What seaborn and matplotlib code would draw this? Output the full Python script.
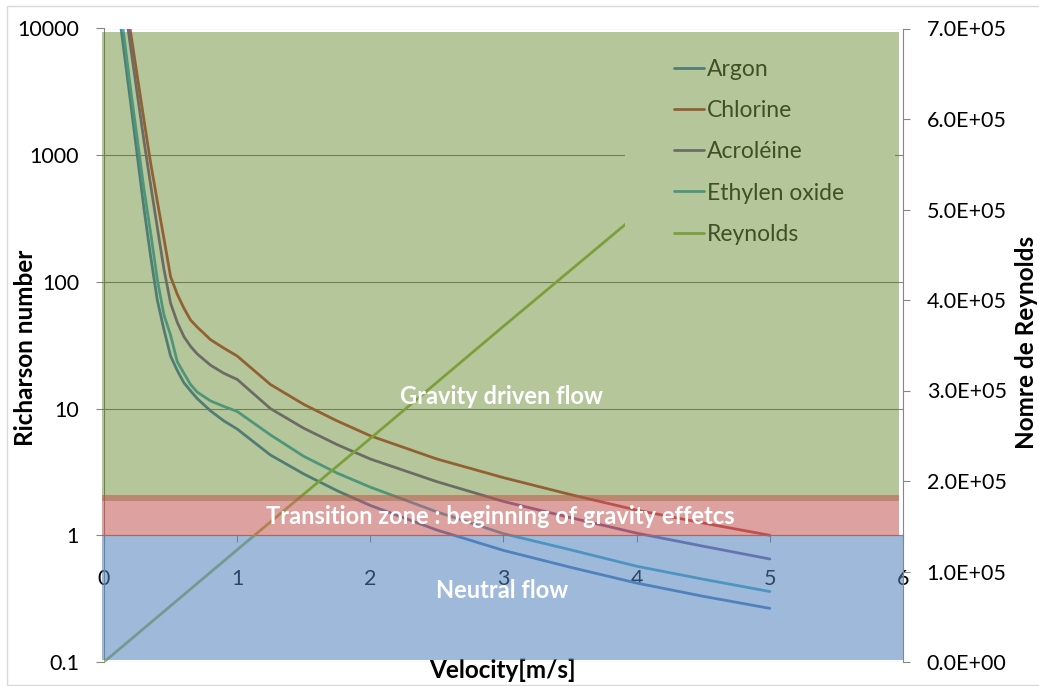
import matplotlib
matplotlib.use("Agg")
import pandas as pd
import matplotlib.pyplot as plt
import seaborn as sns
from matplotlib.patches import Rectangle
from matplotlib.ticker import FuncFormatter, NullLocator

# velocity [m/s] and Richardson numbers
velocity = [0.1, 0.2, 0.3, 0.35, 0.4, 0.45, 0.5, 0.55, 0.6, 0.65, 0.7, 0.8, 0.9, 1.0,
            1.25, 1.5, 1.75, 2.0, 2.5, 3.0, 3.5, 4.0, 4.5, 5.0]
argon = [17000, 2600, 380, 160, 72, 42, 26, 20, 16, 13.8, 12, 9.6, 8.0, 6.9,
         4.3, 3.05, 2.25, 1.72, 1.1, 0.76, 0.56, 0.42, 0.33, 0.265]
chlorine = [45000, 9300, 1900, 870, 435, 220, 110, 80, 62, 50, 44, 35, 30, 26,
            15.5, 10.8, 8.0, 6.1, 4.0, 2.85, 2.1, 1.58, 1.25, 1.0]
acroleine = [40000, 7100, 1300, 585, 270, 126, 68, 48, 37, 31, 27, 22, 19, 17,
             10.0, 7.0, 5.2, 4.0, 2.65, 1.85, 1.38, 1.04, 0.82, 0.65]
ethylene = [23000, 3300, 540, 245, 105, 55, 38, 23.5, 19, 15.5, 13.5, 11.5, 10.4, 9.5,
            6.2, 4.2, 3.1, 2.4, 1.53, 1.03, 0.77, 0.57, 0.45, 0.36]
gases = ["Argon", "Chlorine", "Acroléine", "Ethylen oxide"]
gas_colors = ["#4F81BD", "#C0504D", "#8064A2", "#4BACC6"]

reynolds_v = [0, 1, 2, 3, 4, 5]
reynolds = [0, 1.24e5, 2.47e5, 3.71e5, 4.94e5, 6.18e5]

left_ticks = [0.1, 1, 10, 100, 1000, 10000]
right_ticks = [0, 1e5, 2e5, 3e5, 4e5, 5e5, 6e5, 7e5]

df = pd.DataFrame({
    "Velocity": velocity * 4,
    "Ri": argon + chlorine + acroleine + ethylene,
    "Gas": sum([[g] * len(velocity) for g in gases], []),
})
df_re = pd.DataFrame({"Velocity": reynolds_v, "Re": reynolds})

sns.set_style("white")
plt.rcParams["font.family"] = ["Lato", "DejaVu Sans"]

W, H = 1039, 686
grey = "#868686"
tick_fs = 15.5
leg_fs = 16.5
zone_fs = 17
title_fs = 17.5

fig = plt.figure(figsize=(W / 100, H / 100), dpi=100)
ax = fig.add_axes([104 / W, 1 - 662 / H, (903 - 104) / W, (662 - 28.5) / H])
ax2 = ax.twinx()

ax.set_yscale("log")
sns.lineplot(data=df, x="Velocity", y="Ri", hue="Gas", hue_order=gases,
             palette=gas_colors, ax=ax, legend=False, errorbar=None,
             linewidth=2.0)
sns.lineplot(data=df_re, x="Velocity", y="Re", color="#9BBB59", ax=ax2,
             errorbar=None, linewidth=2.0)

ax.set_xlim(0, 6)
ax.set_ylim(0.1, 10000)
ax2.set_ylim(0, 7e5)
ax.set_xlabel("")
ax.set_ylabel("")
ax2.set_ylabel("")

# left axis
ax.yaxis.set_minor_locator(NullLocator())
ax.set_yticks(left_ticks)
ax.yaxis.set_major_formatter(FuncFormatter(lambda v, _: f"{v:g}"))
ax.yaxis.grid(True, color=grey, linewidth=0.8)
ax.tick_params(axis="y", which="major", left=True, length=6, width=0.8,
               color=grey, labelsize=tick_fs, pad=12, labelcolor="black")

# x axis crossing at Ri = 1
ax.spines["bottom"].set_position(("data", 1))
ax.set_xticks(range(7))
ax.tick_params(axis="x", bottom=True, length=5, width=0.8, color=grey,
               labelsize=tick_fs, pad=19, labelcolor="black")
for s in ["top", "right"]:
    ax.spines[s].set_visible(False)
for s in ["left", "bottom"]:
    ax.spines[s].set_color(grey)
    ax.spines[s].set_linewidth(0.8)

# right axis
ax2.set_yticks(right_ticks)
ax2.yaxis.set_major_formatter(FuncFormatter(lambda v, _: f"{v:.1E}"))
ax2.tick_params(axis="y", right=True, length=5, width=0.8, color=grey,
                labelsize=tick_fs, pad=12, labelcolor="black")
for s in ["top", "left", "bottom"]:
    ax2.spines[s].set_visible(False)
ax2.spines["right"].set_color(grey)
ax2.spines["right"].set_linewidth(0.8)

# legend box (white) and legend
ax2.add_patch(Rectangle((625 / W, 1 - 262 / H), (895 - 625) / W, (262 - 40) / H,
                        transform=fig.transFigure, facecolor="white",
                        edgecolor="none", zorder=3))
handles = list(ax.get_lines()[:4]) + [ax2.get_lines()[0]]
ax2.legend(handles, gases + ["Reynolds"], loc="upper left",
           bbox_to_anchor=(674 / W, 1 - 59 / H), bbox_transform=fig.transFigure,
           frameon=False, borderpad=0, borderaxespad=0, handlelength=1.3,
           handletextpad=0.15, labelspacing=0.88, fontsize=leg_fs,
           labelcolor="#333333")

# translucent zone overlays drawn on top of everything
fig.add_artist(Rectangle((-0.017, 1.875), 5.985, 9450 - 1.875,
                         transform=ax.transData, facecolor=(81 / 255, 121 / 255, 17 / 255),
                         alpha=0.42, edgecolor="none", zorder=10))
fig.add_artist(Rectangle((-0.017, 0.987), 5.985, 2.08 - 0.987,
                         transform=ax.transData, facecolor="#C0504D",
                         alpha=0.53, edgecolor="none", zorder=11))
fig.add_artist(Rectangle((-0.017, 0.1037), 6.015, 0.987 - 0.1037,
                         transform=ax.transData, facecolor="#4F81BD",
                         alpha=0.55, edgecolor="none", zorder=12))

txt = dict(color="white", fontweight="bold", fontsize=zone_fs, ha="center",
           va="center", zorder=13)
fig.text(502 / W, 1 - 397 / H, "Gravity driven flow", **txt)
fig.text(500 / W, 1 - 517 / H, "Transition zone : beginning of gravity effetcs", **txt)
fig.text(502 / W, 1 - 590 / H, "Neutral flow", **txt)

# axis titles
lab = dict(color="black", fontweight="bold", fontsize=title_fs, ha="center", va="center")
fig.text(26 / W, 1 - 348 / H, "Richarson number", rotation=90, **lab)
fig.text(502 / W, 1 - 670 / H, "Velocity[m/s]", **lab)
fig.text(1026 / W, 1 - 342 / H, "Nomre de Reynolds", rotation=90, **lab)

# chart border
fig.add_artist(Rectangle((7 / W, 1 - 685 / H), (1060 - 7) / W, (685 - 6) / H,
                         transform=fig.transFigure, fill=False,
                         edgecolor="#D9D9D9", linewidth=1.0, zorder=14))

fig.savefig("out.png", dpi=100)
